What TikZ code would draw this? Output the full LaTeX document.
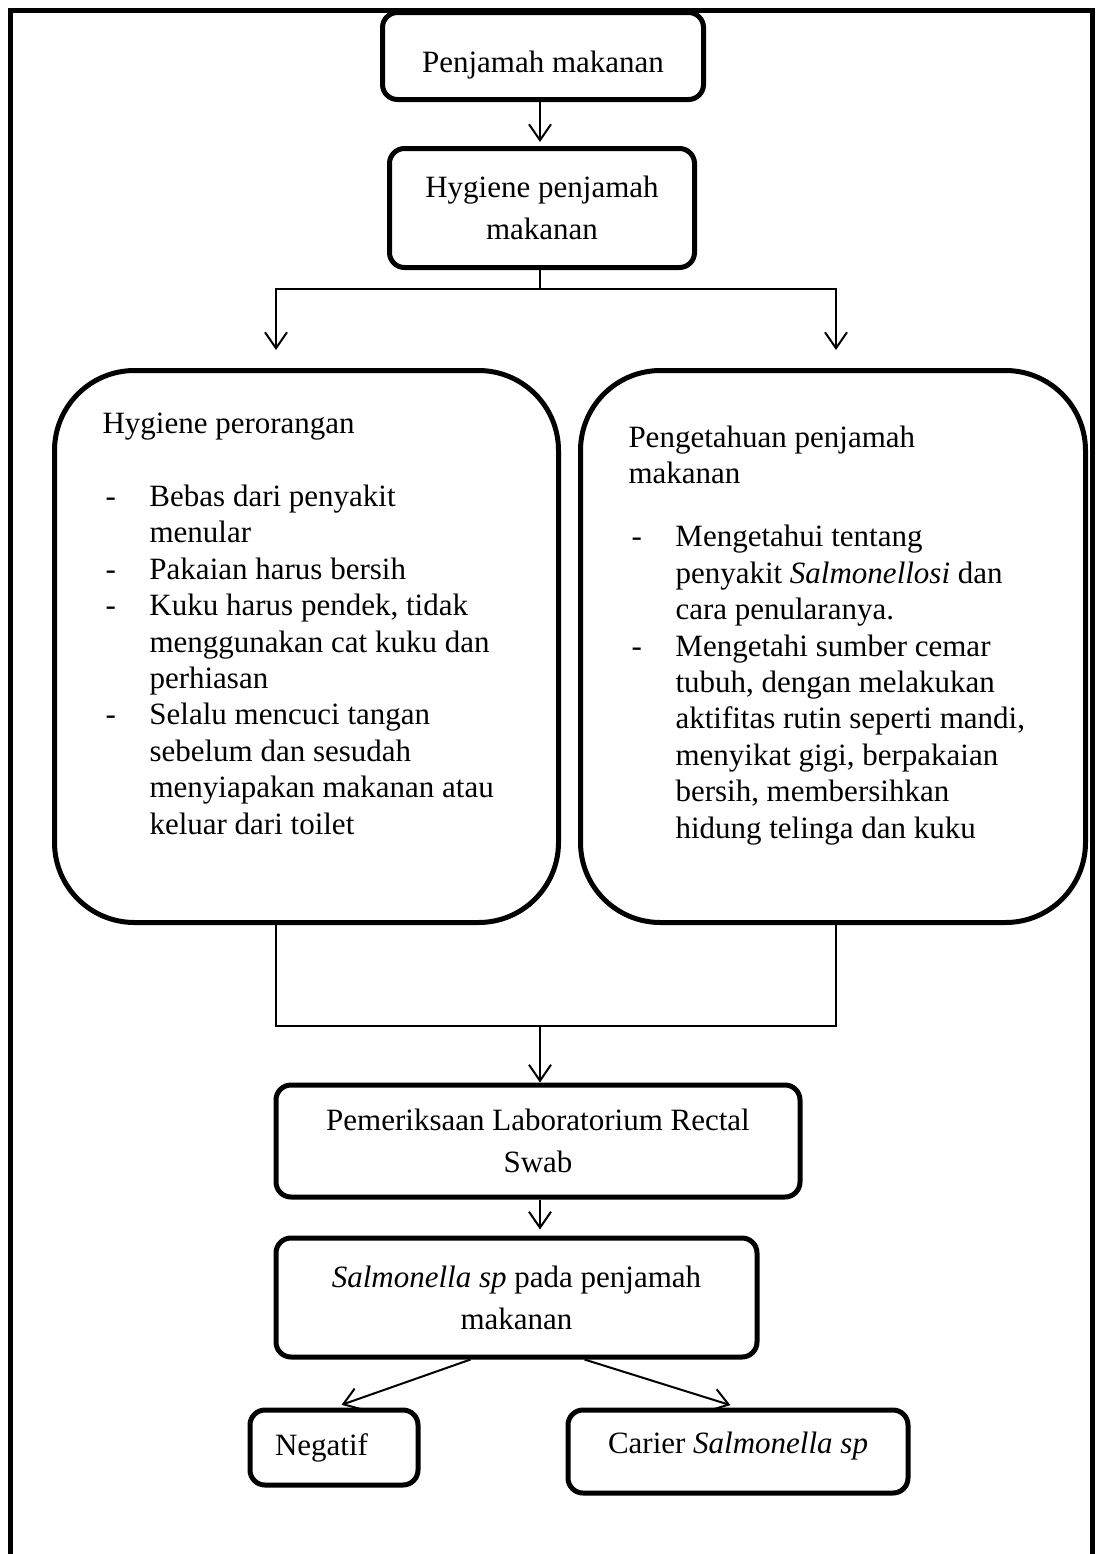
\documentclass[tikz,border=0pt]{standalone}
\usepackage{fontspec}
\setmainfont{Liberation Serif}
\usetikzlibrary{arrows.meta,positioning}
\newcommand{\listdash}[1]{\makebox[23.5pt][l]{\hspace{1.5pt}-}#1}
\newcommand{\listcont}{\hspace*{23.5pt}}
\tikzset{
  flowbox/.style={draw,line width=2.5pt,rounded corners=7.5pt,align=center,inner sep=0pt,font=\fontsize{15.5}{21}\selectfont},
  bigbox/.style={draw,line width=2.5pt,rounded corners=40pt,inner sep=0pt,font=\fontsize{15.5}{18.2}\selectfont},
  link/.style={-{Straight Barb[length=8pt,width=11pt]},line width=1pt},
  joinline/.style={line width=0.7pt},
  frameline/.style={line width=2.5pt}
}
\begin{document}
\begin{tikzpicture}[x=0.5pt,y=-0.5pt]
  \useasboundingbox (0,0) rectangle (1099,1554);
  \draw[frameline] (10,1554) -- (10,10) -- (1092,10) -- (1092,1554);
  \node[flowbox,minimum width=160.5pt,minimum height=43.5pt,text height=20pt] (penjamah) at (543,56) {Penjamah makanan};
  \node[flowbox,minimum width=152.5pt,minimum height=59.5pt] (hygiene) at (542,208) {Hygiene penjamah\\makanan};
  \node[bigbox,anchor=north west] (perorangan) at (52,368) {\parbox[c][276pt][t]{252pt}{\raggedright\leftskip=24pt
    \vspace*{21pt}
    Hygiene perorangan\\[18.5pt]
    \listdash{Bebas dari penyakit}\\
    \listcont menular\\
    \listdash{Pakaian harus bersih}\\
    \listdash{Kuku harus pendek, tidak}\\
    \listcont menggunakan cat kuku dan\\
    \listcont perhiasan\\
    \listdash{Selalu mencuci tangan}\\
    \listcont sebelum dan sesudah\\
    \listcont menyiapakan makanan atau\\
    \listcont keluar dari toilet}};
  \node[bigbox,anchor=north west] (pengetahuan) at (578,368) {\parbox[c][276pt][t]{252.5pt}{\raggedright\leftskip=24pt
    \vspace*{27.5pt}
    Pengetahuan penjamah\\
    makanan\\[13.5pt]
    \listdash{Mengetahui tentang}\\
    \listcont penyakit \textit{Salmonellosi} dan\\
    \listcont cara penularanya.\\
    \listdash{Mengetahi sumber cemar}\\
    \listcont tubuh, dengan melakukan\\
    \listcont aktifitas rutin seperti mandi,\\
    \listcont menyikat gigi, berpakaian\\
    \listcont bersih, membersihkan\\
    \listcont hidung telinga dan kuku}};
  \node[flowbox,minimum width=262pt,minimum height=56pt] (lab) at (538,1141) {Pemeriksaan Laboratorium Rectal\\Swab};
  \node[flowbox,minimum width=240.5pt,minimum height=59.5pt] (salmonella) at (516.5,1297.5) {\textit{Salmonella sp} pada penjamah\\makanan};
  \node[flowbox,minimum width=84pt,minimum height=37.5pt,text width=59pt,align=left] (negatif) at (334,1447.5) {Negatif};
  \node[flowbox,minimum width=170pt,minimum height=41.5pt,text depth=9pt] (carier) at (738,1451.5) {Carier \textit{Salmonella sp}};
  % branching
  \coordinate (split) at (540,289);
  \coordinate (leftin) at (276,350);
  \coordinate (rightin) at (836,350);
  \draw[link,shorten >=2pt] (penjamah.south -| split) -- (hygiene.north -| split);
  \draw[line width=1pt] (hygiene.south -| split) -- (split);
  \draw[link] (split) -| (leftin);
  \draw[link] (split) -| (rightin);
  % merging
  \coordinate (merge) at (540,1026);
  \coordinate (leftout) at (276,1026);
  \coordinate (rightout) at (836,1026);
  \draw[joinline] (perorangan.south -| leftout) -- (leftout) -- (rightout) -- (pengetahuan.south -| rightout);
  \draw[link] (merge) -- (lab.north -| merge);
  \draw[link,shorten >=3pt] (lab.south -| merge) -- (salmonella.north -| merge);
  \draw[link,shorten >=4pt] ([xshift=-23pt]salmonella.south) -- (negatif.north);
  \draw[link,shorten >=4pt] ([xshift=34pt]salmonella.south) -- (carier.north);
\end{tikzpicture}
\end{document}
